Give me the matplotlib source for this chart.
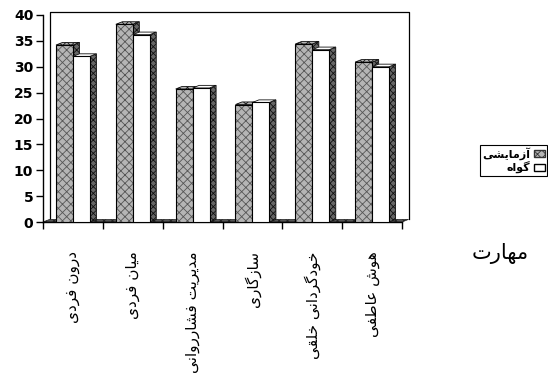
import matplotlib
matplotlib.use('Agg')
import matplotlib.pyplot as plt
from matplotlib.patches import Polygon, Patch
import numpy as np

# Data
categories = ['درون فردی', 'میان فردی', 'مدیریت فشارروانی', 'سازگاری', 'خودگردانی خلقی', 'هوش عاطفی']
experimental = [34.2, 38.2, 25.7, 22.7, 34.4, 30.9]
control = [32.0, 36.2, 25.9, 23.1, 33.3, 30.0]
series_names = ['آزمایشی', 'گواه']
axis_title = 'مهارت'
yticks = [0, 5, 10, 15, 20, 25, 30, 35, 40]

# --- minimal Persian shaping (matplotlib has no bidi / joining support) ---
# forms: isolated, final, initial, medial
FORMS = {
    'ا': (0xFE8D, 0xFE8E), 'آ': (0xFE81, 0xFE82), 'د': (0xFEA9, 0xFEAA),
    'ر': (0xFEAD, 0xFEAE), 'ز': (0xFEAF, 0xFEB0), 'و': (0xFEED, 0xFEEE),
    'ب': (0xFE8F, 0xFE90, 0xFE91, 0xFE92), 'ت': (0xFE95, 0xFE96, 0xFE97, 0xFE98),
    'خ': (0xFEA5, 0xFEA6, 0xFEA7, 0xFEA8), 'س': (0xFEB1, 0xFEB2, 0xFEB3, 0xFEB4),
    'ش': (0xFEB5, 0xFEB6, 0xFEB7, 0xFEB8), 'ط': (0xFEC1, 0xFEC2, 0xFEC3, 0xFEC4),
    'ع': (0xFEC9, 0xFECA, 0xFECB, 0xFECC), 'ف': (0xFED1, 0xFED2, 0xFED3, 0xFED4),
    'ق': (0xFED5, 0xFED6, 0xFED7, 0xFED8), 'ل': (0xFEDD, 0xFEDE, 0xFEDF, 0xFEE0),
    'م': (0xFEE1, 0xFEE2, 0xFEE3, 0xFEE4), 'ن': (0xFEE5, 0xFEE6, 0xFEE7, 0xFEE8),
    'ه': (0xFEE9, 0xFEEA, 0xFEEB, 0xFEEC), 'ی': (0xFBFC, 0xFBFD, 0xFBFE, 0xFBFF),
    'گ': (0xFB92, 0xFB93, 0xFB94, 0xFB95),
}


def fa(text):
    out = []
    for i, c in enumerate(text):
        if c not in FORMS:
            out.append(c)
            continue
        prev = text[i - 1] if i > 0 else ''
        nxt = text[i + 1] if i + 1 < len(text) else ''
        f = FORMS[c]
        join_prev = prev in FORMS and len(FORMS[prev]) == 4
        join_next = len(f) == 4 and nxt in FORMS
        if join_prev and join_next:
            g = f[3]
        elif join_prev:
            g = f[1]
        elif join_next:
            g = f[2]
        else:
            g = f[0]
        out.append(chr(g))
    return ''.join(reversed(out))


AR_FONT = ['DejaVu Sans']
plt.rcParams['hatch.linewidth'] = 0.6

fig = plt.figure(figsize=(5.48, 3.79), dpi=100)
ax = fig.add_axes([43 / 548, 1 - 222 / 379, 359 / 548, 207 / 379])
ax.set_xlim(0, 6)
ax.set_ylim(0, 40)

x = np.arange(len(categories))
w = 0.283
dx, dy = 0.11, 0.5  # fake 3d depth in data units

# back wall and floor
ax.plot([dx, dx, 6 + dx, 6 + dx], [dy, 40 + dy, 40 + dy, dy], color='black', lw=0.9,
        clip_on=False, zorder=1)
ax.add_patch(Polygon([(0, 0), (6, 0), (6 + dx, dy), (dx, dy)], closed=True,
                     facecolor='#555555', edgecolor='#222222', hatch='xxxx', lw=0.5,
                     clip_on=False, zorder=1))


def bar3d(x0, h, front, front_hatch, z):
    x1 = x0 + w
    side = Polygon([(x1, 0), (x1 + dx, dy), (x1 + dx, h + dy), (x1, h)], closed=True,
                   facecolor='#666666', edgecolor='#111111', hatch='xxxxx', lw=0.6,
                   clip_on=False, zorder=z)
    top = Polygon([(x0, h), (x1, h), (x1 + dx, h + dy), (x0 + dx, h + dy)], closed=True,
                  facecolor=front, edgecolor='#111111', hatch=front_hatch, lw=0.6,
                  clip_on=False, zorder=z)
    ax.add_patch(side)
    ax.add_patch(top)


for i in range(len(categories)):
    bar3d(x[i] + 0.217, experimental[i], '#b5b5b5', 'xxxx', 3)
    bar3d(x[i] + 0.5, control[i], 'white', None, 5)

ax.bar(x + 0.217, experimental, width=w, align='edge', color='#b5b5b5',
       edgecolor='#555555', hatch='xxxx', lw=0, zorder=3)
ax.bar(x + 0.217, experimental, width=w, align='edge', fill=False,
       edgecolor='black', lw=0.8, zorder=3.5)
ax.bar(x + 0.5, control, width=w, align='edge', color='white',
       edgecolor='black', lw=0.8, zorder=5)

# axes styling
for s in ['top', 'right']:
    ax.spines[s].set_visible(False)
ax.spines['left'].set_linewidth(1.0)
ax.spines['bottom'].set_linewidth(1.0)
ax.set_yticks(yticks)
ax.set_yticklabels([str(v) for v in yticks], fontfamily='DejaVu Sans',
                   fontweight='bold', fontsize=10)
ax.tick_params(axis='y', length=5, width=1, pad=2)

ax.set_xticks(np.arange(len(categories) + 1), minor=True)
ax.set_xticks(x + 0.5)
ax.set_xticklabels([fa(c) for c in categories], rotation=90, family=AR_FONT, fontsize=11)
ax.tick_params(axis='x', which='major', length=0, pad=21)
ax.tick_params(axis='x', which='minor', length=5, width=1)

fig.text(500 / 548, 1 - 253 / 379, fa(axis_title), family=AR_FONT, fontsize=15,
         ha='center', va='center')

handles = [Patch(facecolor='#b5b5b5', edgecolor='#333333', hatch='xxxx'),
           Patch(facecolor='white', edgecolor='black')]
leg = fig.legend(handles, [fa(s) for s in series_names], loc='upper right',
                 bbox_to_anchor=(547 / 548, 1 - 145 / 379), markerfirst=False,
                 prop={'family': AR_FONT, 'weight': 'bold', 'size': 8},
                 frameon=True, fancybox=False, edgecolor='black', framealpha=1,
                 borderpad=0.2, handlelength=1.0, handleheight=0.6,
                 labelspacing=0.1, handletextpad=0.3, borderaxespad=0)
leg.get_frame().set_linewidth(0.8)

fig.savefig('out.png', dpi=100)
